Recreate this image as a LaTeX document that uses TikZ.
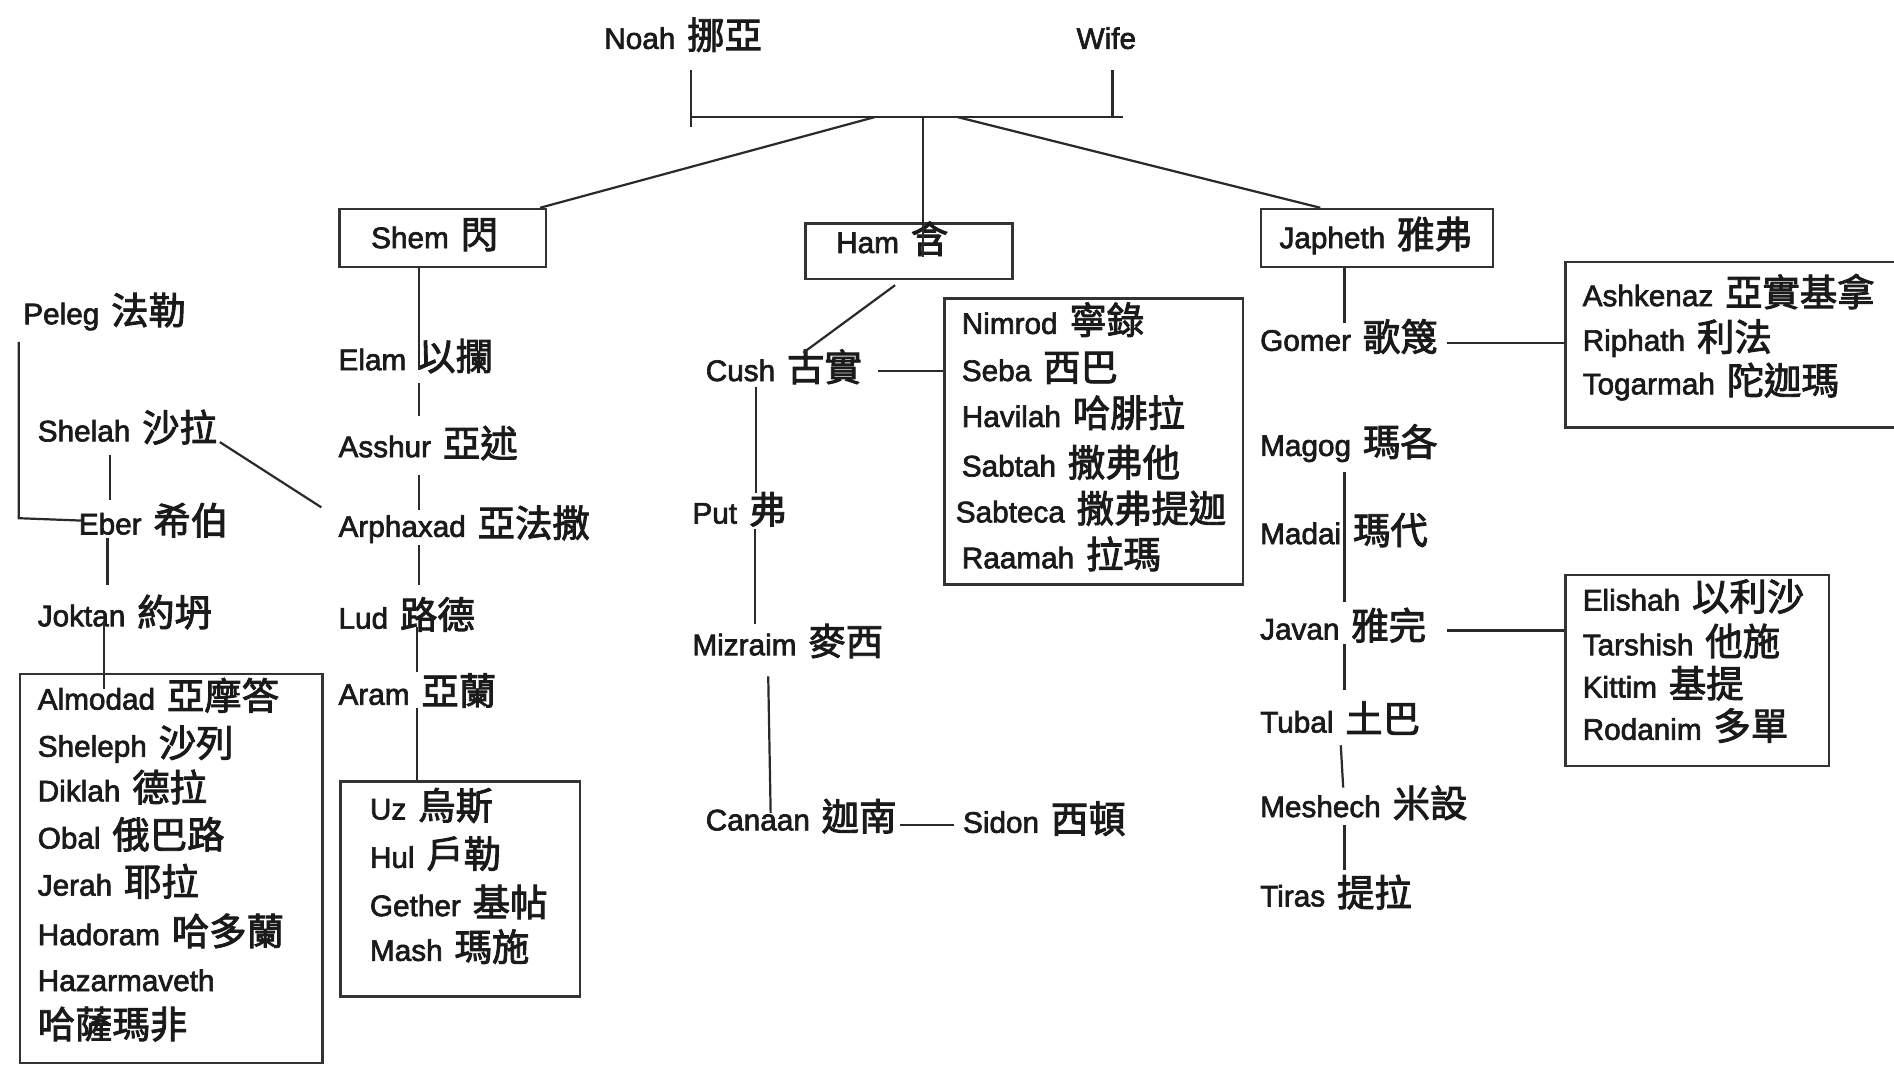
\documentclass[tikz,border=0pt]{standalone}
\usepackage{fontspec}
\setmainfont{Liberation Sans}[UprightFeatures={FakeBold=2.2}]
\newfontfamily\cjkfont{Noto Sans CJK TC}[UprightFeatures={FakeBold=2.4}]
\usetikzlibrary{calc}
\newcommand{\zhn}[1]{{\cjkfont\fontsize{22pt}{26pt}\selectfont #1}}
\newcommand{\zh}[1]{\hspace{7pt}\zhn{#1}}
\definecolor{txtc}{HTML}{1A1A1A}
\definecolor{linec}{HTML}{2A2A2A}
\definecolor{boxc}{HTML}{333333}
\begin{document}
\begin{tikzpicture}[x=0.025cm,y=-0.025cm,
  lbl/.style={anchor=west,inner sep=0pt,text height=14pt,text depth=2pt,font=\fontsize{17.5pt}{21pt}\selectfont,text=txtc},
  box/.style={draw=boxc,line width=1.5pt,anchor=north west,inner sep=0pt},
  conn/.style={draw=linec,line width=1.3pt}]
\useasboundingbox[fill=white] (0,0) rectangle (1568,881);
\clip (0,0) rectangle (1568,881);

% ---------- top ----------
\node[lbl] (noah) at (500,32) {Noah\zh{挪亞}};
\node[lbl] (wife) at (891,32) {Wife};
\coordinate (nA) at (572,58);
\coordinate (nB) at (572,105);
\coordinate (wA) at (921,58);
\coordinate (barL) at (572,97);
\coordinate (barR) at (930,97);
\coordinate (bS) at (724,97);
\coordinate (bH) at (764,97);
\coordinate (bJ) at (793,97);
\draw[conn] (nA) -- (nB);
\draw[conn] (wA) -- (wA |- barR);
\draw[conn] (barL) -- (barR);

% ---------- sons ----------
\node[box,minimum width=4.275cm,minimum height=1.2cm] (shembox) at (280,172) {};
\node[lbl] (shem) at (307,197) {Shem\zh{閃}};
\node[box,minimum width=4.275cm,minimum height=1.15cm] (hambox) at (666,184) {};
\node[lbl] (ham) at (692,201) {Ham\zh{含}};
\node[box,minimum width=4.8cm,minimum height=1.2cm] (japhbox) at (1043,172) {};
\node[lbl] (japheth) at (1059,197) {Japheth\zh{雅弗}};

\draw[conn] (bS) -- ($(shembox.north east)+(-6,0)$);
\draw[conn] (bH) -- ($(ham.center -| bH)+(0,12)$);
\draw[conn] (bJ) -- ($(japhbox.north west)+(50,0)$);

% ---------- Shem line ----------
\node[lbl] (elam) at (280,298) {Elam\zh{以攔}};
\node[lbl] (asshur) at (280,370) {Asshur\zh{亞述}};
\node[lbl] (arphaxad) at (280,436) {Arphaxad\zh{亞法撒}};
\node[lbl] (lud) at (280,512) {Lud\zh{路德}};
\node[lbl] (aram) at (280,575) {Aram\zh{亞蘭}};
\node[box,minimum width=4.95cm,minimum height=4.45cm] (uzbox) at (281,646) {};
\node[lbl] (uz) at (306,670) {Uz\zh{烏斯}};
\node[lbl] (hul) at (306,710) {Hul\zh{戶勒}};
\node[lbl] (gether) at (306,750) {Gether\zh{基帖}};
\node[lbl] (mash) at (306,787) {Mash\zh{瑪施}};

\coordinate (sx) at (347,0);
\coordinate (sy) at (345,0);
\draw[conn] (shembox.south -| sx) -- ($(elam.center -| sx)+(0,8)$);
\draw[conn] ($(elam.center -| sx)+(0,19)$) -- ($(asshur.center -| sx)+(0,-26)$);
\draw[conn] ($(asshur.center -| sx)+(0,23)$) -- ($(arphaxad.center -| sx)+(0,-14)$);
\draw[conn] ($(arphaxad.center -| sx)+(0,15)$) -- ($(lud.center -| sx)+(0,-28)$);
\draw[conn] ($(lud.center -| sy)+(0,7)$) -- ($(aram.center -| sy)+(0,-19)$);
\draw[conn] ($(aram.center -| sy)+(0,11)$) -- (uzbox.north -| sy);

% ---------- Arphaxad's line ----------
\node[lbl] (peleg) at (19,260) {Peleg\zh{法勒}};
\node[lbl] (shelah) at (31,357) {Shelah\zh{沙拉}};
\node[lbl] (eber) at (65,434) {Eber\zh{希伯}};
\node[lbl] (joktan) at (31,510) {Joktan\zh{約坍}};
\node[box,minimum width=6.2625cm,minimum height=8.05cm] (almbox) at (15.5,557) {};
\node[lbl] (almodad) at (31,579) {Almodad\zh{亞摩答}};
\node[lbl] (sheleph) at (31,618) {Sheleph\zh{沙列}};
\node[lbl] (diklah) at (31,655) {Diklah\zh{德拉}};
\node[lbl] (obal) at (31,694) {Obal\zh{俄巴路}};
\node[lbl] (jerah) at (31,733) {Jerah\zh{耶拉}};
\node[lbl] (hadoram) at (31,774) {Hadoram\zh{哈多蘭}};
\node[lbl] (hazar) at (31,812) {Hazarmaveth};
\node[lbl] (hazarzh) at (31,851) {\zhn{哈薩瑪非}};

\coordinate (pA) at (15.5,283);
\coordinate (pB) at (15.5,429);
\draw[conn] (pA) -- (pB) -- ($(eber.west)+(3,-3)$);
\coordinate (shD) at (182,366);
\draw[conn] (shD) -- ($(arphaxad.west)+(-14,-16)$);
\coordinate (ex) at (91,0);
\coordinate (ey) at (89,0);
\coordinate (jx) at (86,0);
\draw[conn] ($(shelah.center -| ex)+(0,20)$) -- ($(eber.center -| ex)+(0,-20)$);
\draw[conn] ($(eber.center -| ey)+(0,11)$) -- ($(joktan.center -| ey)+(0,-26)$);
\draw[conn] ($(joktan.center -| jx)+(0,5)$) -- ($(almodad.center -| jx)+(0,-9)$);

% ---------- Ham line ----------
\node[lbl] (cush) at (584,307) {Cush\zh{古實}};
\node[box,minimum width=6.175cm,minimum height=5.925cm] (nimbox) at (781,246) {};
\node[lbl] (nimrod) at (796,268) {Nimrod\zh{寧錄}};
\node[lbl] (seba) at (796,307) {Seba\zh{西巴}};
\node[lbl] (havilah) at (796,345) {Havilah\zh{哈腓拉}};
\node[lbl] (sabtah) at (796,386) {Sabtah\zh{撒弗他}};
\node[lbl] (sabteca) at (791,424) {Sabteca\zh{撒弗提迦}};
\node[lbl] (raamah) at (796,462) {Raamah\zh{拉瑪}};
\node[lbl] (put) at (573,425) {Put\zh{弗}};
\node[lbl] (mizraim) at (573,534) {Mizraim\zh{麥西}};
\node[lbl] (canaan) at (584,679) {Canaan\zh{迦南}};
\node[lbl] (sidon) at (797,681) {Sidon\zh{西頓}};

\draw[conn] ($(hambox.south west)+(75,4)$) -- ($(cush.west)+(81,-15)$);
\coordinate (cE) at ($(cush.west)+(143,0)$);
\draw[conn] (cE) -- (cE -| nimbox.west);
\coordinate (px) at (626,0);
\coordinate (py) at (625,0);
\draw[conn] ($(cush.center -| px)+(0,13)$) -- ($(put.center -| px)+(0,-17)$);
\draw[conn] ($(put.center -| py)+(0,13)$) -- ($(mizraim.center -| py)+(0,-17)$);
\draw[conn] ($(mizraim.west)+(63,26)$) -- ($(canaan.west)+(54,-6)$);
\draw[conn] ($(canaan.west)+(161,4)$) -- ($(sidon.west)+(-7,2)$);

% ---------- Japheth line ----------
\node[lbl] (gomer) at (1043,282) {Gomer\zh{歌篾}};
\node[box,minimum width=7cm,minimum height=3.425cm] (ashbox) at (1295,216) {};
\node[lbl] (ashkenaz) at (1310,245) {Ashkenaz\zh{亞實基拿}};
\node[lbl] (riphath) at (1310,282) {Riphath\zh{利法}};
\node[lbl] (togarmah) at (1310,318) {Togarmah\zh{陀迦瑪}};
\node[lbl] (magog) at (1043,369) {Magog\zh{瑪各}};
\node[lbl] (madai) at (1043,442) {Madai\zh{瑪代}};
\node[lbl] (javan) at (1043,521) {Javan\zh{雅完}};
\node[box,minimum width=5.45cm,minimum height=3.95cm] (elibox) at (1295,475) {};
\node[lbl] (elishah) at (1310,497) {Elishah\zh{以利沙}};
\node[lbl] (tarshish) at (1310,534) {Tarshish\zh{他施}};
\node[lbl] (kittim) at (1310,569) {Kittim\zh{基提}};
\node[lbl] (rodanim) at (1310,604) {Rodanim\zh{多單}};
\node[lbl] (tubal) at (1043,598) {Tubal\zh{土巴}};
\node[lbl] (meshech) at (1043,668) {Meshech\zh{米設}};
\node[lbl] (tiras) at (1043,742) {Tiras\zh{提拉}};

\coordinate (jc) at (1113,0);
\draw[conn] (japhbox.south -| jc) -- ($(gomer.center -| jc)+(0,-15)$);
\coordinate (gE) at ($(gomer.west)+(155,2)$);
\draw[conn] (gE) -- (gE -| ashbox.west);
\draw[conn] ($(magog.center -| jc)+(0,22)$) -- ($(javan.center -| jc)+(0,-23)$);
\coordinate (jE) at ($(javan.west)+(155,1)$);
\draw[conn] (jE) -- (jE -| elibox.west);
\draw[conn] ($(javan.center -| jc)+(0,12)$) -- ($(tubal.center -| jc)+(0,-27)$);
\draw[conn] ($(tubal.center -| jc)+(-3,19)$) -- ($(meshech.center -| jc)+(-1,-16)$);
\draw[conn] ($(meshech.center -| jc)+(0,15)$) -- ($(tiras.center -| jc)+(0,-22)$);
\end{tikzpicture}
\end{document}
